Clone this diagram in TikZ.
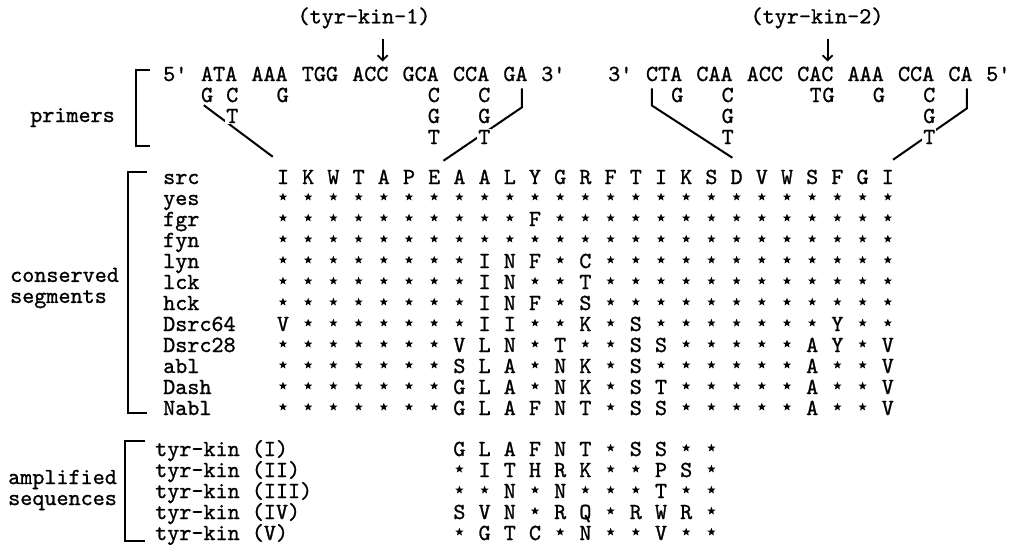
\documentclass[tikz,border=0pt]{standalone}
\usepackage{fontspec}
\usepackage{tikz}
\usetikzlibrary{calc,arrows.meta,shapes.geometric}

\newfontface\twf{lmmono10-regular.otf}[FakeBold=1]

\tikzset{
  tw/.style={font=\fontsize{23}{21}\selectfont\twf, inner sep=0pt},
  aa/.style={tw, anchor=base, yshift=-7pt},
  var/.style={aa, fill=white, inner sep=1pt},
  lbl/.style={tw, anchor=base west, yshift=-7pt},
  st/.style={star, star points=5, star point ratio=2.3, fill, inner sep=0pt,
    minimum size=8.5pt, yshift=1pt},
  brk/.style={line width=2.2pt},
  lnk/.style={line width=2pt},
  arr/.style={line width=1.8pt, -{Straight Barb[length=5pt,width=10pt]}},
}

% one cell of the alignment: a star or a residue
\newcommand\cell[3]{%
  \if#3*\node[st] (#1) at #2 {};\else\node[aa] (#1) at #2 {#3};\fi}

\begin{document}
\begin{tikzpicture}[x=1pt,y=-1pt]
  \useasboundingbox (0,0) rectangle (1014,544);

  % side labels and brackets
  \node[tw, anchor=base east] (lprim) at (115,122) {primers};
  \node[tw, anchor=west, align=left] (lcons) at (10,288) {conserved\\segments};
  \node[tw, anchor=west, align=left] (lampl) at (8,490) {amplified\\sequences};

  \draw[brk] (150,70) -- (136,70) -- (136,146) -- (150,146);
  \draw[brk] (147,172) -- (128,172) -- (128,413) -- (147,413);
  \draw[brk] (145,441) -- (125,441) -- (125,541) -- (145,541);

  % primers
  \foreach \g/\i [count=\n] in {5\textquotesingle/0,ATA/3,AAA/7,TGG/11,ACC/15,GCA/19,CCA/23,GA/27,3\textquotesingle/30}
    \node[lbl] (pa\n) at (163+12.6*\i,74) {\g};
  \foreach \g/\i [count=\n] in {3\textquotesingle/0,CTA/3,CAA/7,ACC/11,CAC/15,AAA/19,CCA/23,CA/27,5\textquotesingle/30}
    \node[lbl] (pb\n) at (608+12.6*\i,74) {\g};

  \node[tw] (tk1) at (364,18) {(tyr-kin-1)};
  \node[tw] (tk2) at (817,18) {(tyr-kin-2)};
  \coordinate (a1) at ($(pa5.north east)+(-6,-5)$);
  \coordinate (a2) at ($(pb5.north east)+(-6,-5)$);
  \draw[arr] ($(tk1.south -| a1)+(0,10)$) -- (a1);
  \draw[arr] ($(tk2.south -| a2)+(0,10)$) -- (a2);

  % conserved segments
  \foreach \nm/\seq [count=\r from 0] in {
      src/{I,K,W,T,A,P,E,A,A,L,Y,G,R,F,T,I,K,S,D,V,W,S,F,G,I},
      yes/{*,*,*,*,*,*,*,*,*,*,*,*,*,*,*,*,*,*,*,*,*,*,*,*,*},
      fgr/{*,*,*,*,*,*,*,*,*,*,F,*,*,*,*,*,*,*,*,*,*,*,*,*,*},
      fyn/{*,*,*,*,*,*,*,*,*,*,*,*,*,*,*,*,*,*,*,*,*,*,*,*,*},
      lyn/{*,*,*,*,*,*,*,*,I,N,F,*,C,*,*,*,*,*,*,*,*,*,*,*,*},
      lck/{*,*,*,*,*,*,*,*,I,N,*,*,T,*,*,*,*,*,*,*,*,*,*,*,*},
      hck/{*,*,*,*,*,*,*,*,I,N,F,*,S,*,*,*,*,*,*,*,*,*,*,*,*},
      Dsrc64/{V,*,*,*,*,*,*,*,I,I,*,*,K,*,S,*,*,*,*,*,*,*,Y,*,*},
      Dsrc28/{*,*,*,*,*,*,*,V,L,N,*,T,*,*,S,S,*,*,*,*,*,A,Y,*,V},
      abl/{*,*,*,*,*,*,*,S,L,A,*,N,K,*,S,*,*,*,*,*,*,A,*,*,V},
      Dash/{*,*,*,*,*,*,*,G,L,A,*,N,K,*,S,T,*,*,*,*,*,A,*,*,V},
      Nabl/{*,*,*,*,*,*,*,G,L,A,F,N,T,*,S,S,*,*,*,*,*,A,*,*,V}} {
    \node[lbl] (n-\r) at (163,177+21*\r) {\nm};
    \foreach \c [count=\j from 0] in \seq {
      \cell{c-\r-\j}{(283+25.2*\j,177+21*\r)}{\c}
    }
  }

  % primer ends on the protein
  \coordinate (e1) at ($(c-0-0.north west)+(-4,-13)$);
  \coordinate (e2) at ($(c-0-6.north east)+(3,-9)$);
  \coordinate (e3) at ($(c-0-18.north west)+(2,-12)$);
  \coordinate (e4) at ($(c-0-24.north east)+(-1,-10)$);
  \coordinate (b1) at ($(pa8.south east)+(-6,7)$);
  \coordinate (b2) at ($(pb2.south west)+(6,7)$);
  \coordinate (b3) at ($(pb8.south east)+(-6,7)$);

  \draw[lnk] ($(pa2.south west)+(3,24)$) -- (e1);
  \draw[lnk] (b1) -- ++(0,19) -- (e2);
  \draw[lnk] (b2) -- ++(0,17) -- (e3);
  \draw[lnk] (b3) -- ++(0,20) -- (e4);

  % degenerate positions
  \foreach \i/\k/\l in {3/1/G,5/1/C,9/1/G,21/1/C,25/1/C,5/2/T,21/2/G,25/2/G,21/3/T,25/3/T}
    \node[var] (va-\i-\k) at (163+12.6*\i+6.3,74+21*\k) {\l};
  \foreach \i/\k/\l in {5/1/G,9/1/C,16/1/T,17/1/G,21/1/G,25/1/C,9/2/G,25/2/G,9/3/T,25/3/T}
    \node[var] (vb-\i-\k) at (608+12.6*\i+6.3,74+21*\k) {\l};

  % amplified sequences
  \foreach \nm/\seq [count=\r from 0] in {
      (I)/{G,L,A,F,N,T,*,S,S,*,*},
      (II)/{*,I,T,H,R,K,*,*,P,S,*},
      (III)/{*,*,N,*,N,*,*,*,T,*,*},
      (IV)/{S,V,N,*,R,Q,*,R,W,R,*},
      (V)/{*,G,T,C,*,N,*,*,V,*,*}} {
    \node[lbl] (t-\r) at (155,449+21*\r) {tyr-kin \nm};
    \foreach \c [count=\j from 7] in \seq {
      \cell{s-\r-\j}{(283+25.2*\j,449+21*\r)}{\c}
    }
  }

\end{tikzpicture}
\end{document}
